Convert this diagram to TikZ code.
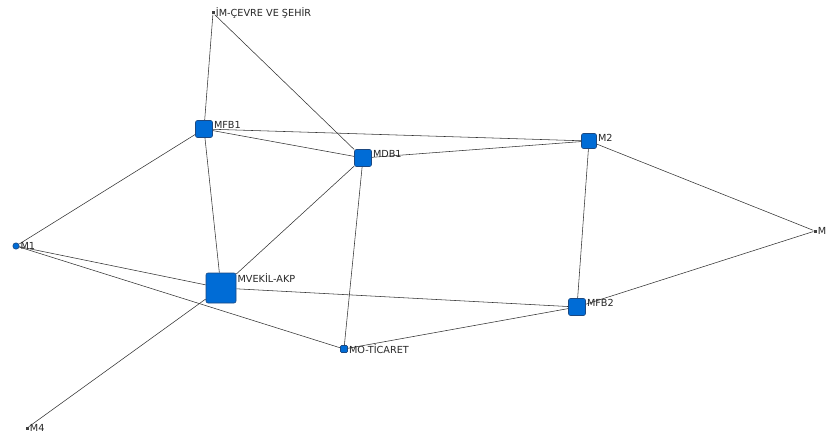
\documentclass[tikz,border=0pt]{standalone}
\usepackage{fontspec}
\setmainfont{DejaVu Sans}
\usepackage{xcolor}
\usetikzlibrary{positioning, backgrounds}

\definecolor{actorfill}{RGB}{0,108,214}
\definecolor{actorline}{RGB}{28,72,128}
\definecolor{tielink}{RGB}{50,50,50}

\begin{document}
\begin{tikzpicture}[
    x=1pt, y=-1pt,
    actor/.style={draw=actorline, fill=actorfill, rounded corners=2pt,
        inner sep=0pt, line width=0.6pt},
    dotactor/.style={actor, rounded corners=1pt},
    tinyactor/.style={draw=none, fill=black!75, inner sep=0pt,
        minimum size=3pt},
    lbl/.style={font=\fontsize{9.7}{10}\selectfont, text=black!85,
        inner sep=1pt},
    tie/.style={draw=tielink, line width=0.55pt},
]
\useasboundingbox (0,0) rectangle (827,441);

% ---- actors (squares sized by degree) ----
\node[actor, minimum size=30pt] (vekil) at (221,288)
    {};
\node[lbl, anchor=north west] at (vekil.north east) {MVEKİL-AKP};
\node[actor, minimum size=17pt] (mfb1) at (204,129) {};
\node[lbl, anchor=north west] at (mfb1.north east) {MFB1};
\node[actor, minimum size=17pt] (mdb1) at (363,158) {};
\node[lbl, anchor=north west] at (mdb1.north east) {MDB1};
\node[actor, minimum size=15pt] (m2) at (589,141) {};
\node[lbl, anchor=north west] at (m2.north east) {M2};
\node[actor, minimum size=17pt] (mfb2) at (577,307) {};
\node[lbl, anchor=north west] at (mfb2.north east) {MFB2};

% ---- small actors ----
\node[dotactor, minimum size=7pt] (ticaret) at (344,349) {};
\node[lbl, anchor=west] at (ticaret.east) {MO-TİCARET};
\node[dotactor, minimum size=6pt, rounded corners=2.5pt] (m1) at (16,246) {};
\node[lbl, anchor=west] at (m1.east) {M1};
\node[tinyactor] (cevre) at (213,13) {};
\node[lbl, anchor=west] at (cevre.east) {İM-ÇEVRE VE ŞEHİR};
\node[tinyactor] (m4) at (27,428) {};
\node[lbl, anchor=west] at (m4.east) {M4};
\node[tinyactor] (m) at (815,231) {};
\node[lbl, anchor=west] at (m.east) {M};

% ---- ties ----
\begin{scope}[on background layer]
\draw[tie] (cevre) -- (mfb1);
\draw[tie] (cevre) -- (mdb1);
\draw[tie] (mfb1) -- (m2);
\draw[tie] (mfb1) -- (mdb1);
\draw[tie] (mfb1) -- (m1);
\draw[tie] (mfb1) -- (vekil);
\draw[tie] (mdb1) -- (m2);
\draw[tie] (mdb1) -- (vekil);
\draw[tie] (mdb1) -- (ticaret);
\draw[tie] (m2) -- (mfb2);
\draw[tie] (m2) -- (m);
\draw[tie] (mfb2) -- (m);
\draw[tie] (vekil) -- (mfb2);
\draw[tie] (m1) -- (vekil);
\draw[tie] (m1) -- (ticaret);
\draw[tie] (ticaret) -- (mfb2);
\draw[tie] (m4) -- (vekil);
\end{scope}

\end{tikzpicture}
\end{document}
